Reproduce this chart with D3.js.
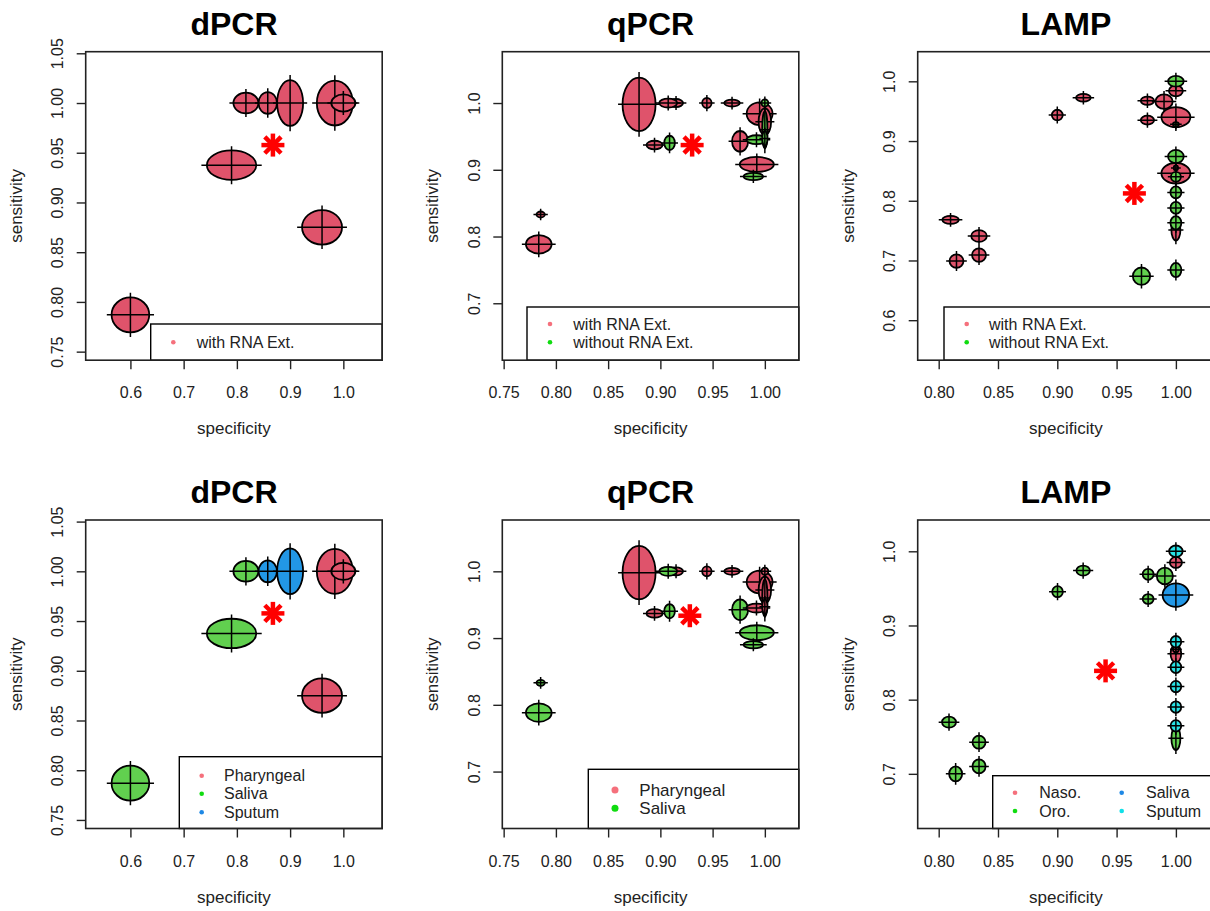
<!DOCTYPE html>
<html>
<head>
<meta charset="utf-8">
<script src="https://cdn.jsdelivr.net/npm/d3@7"></script>
<style>
body { margin: 0; background: #fff; }
text { font-family: "Liberation Sans", Arial, sans-serif; }
</style>
</head>
<body>
<svg id="fig" width="1210" height="911"></svg>
<script>
// ---- data ----
// dPCR studies: specificity, sensitivity, half widths of the ellipse
var dpcrSpec = [0.600, 0.790, 0.817, 0.858, 0.900, 0.984, 1.000, 0.960];
var dpcrSens = [0.787, 0.9375, 1.000, 1.000, 1.000, 1.000, 1.000, 0.875];
var dpcrRx   = [0.0354, 0.0464, 0.0235, 0.0173, 0.0244, 0.0338, 0.0226, 0.0376];
var dpcrRy   = [0.0176, 0.0148, 0.0104, 0.0110, 0.0230, 0.0226, 0.0086, 0.0173];
var dpcrRnaGroup    = ["R", "R", "R", "R", "R", "R", "R", "R"];
var dpcrSampleGroup = ["G", "G", "G", "B", "B", "R", "R", "R"];
var dpcrSummary = [0.8677, 0.9577];

// qPCR studies
var qpcrSpec = [0.7836, 0.7854, 0.8796, 0.915, 0.9075, 0.9445, 0.9686, 0.8944, 0.9088, 0.995, 1.000, 1.000, 1.000, 0.9763, 0.992, 1.000, 0.9923, 0.989];
var qpcrSens = [0.7883, 0.833, 0.998, 1.000, 1.000, 1.000, 1.000, 0.937, 0.9403, 0.984, 0.972, 1.000, 0.960, 0.9426, 0.945, 0.947, 0.908, 0.890];
var qpcrRx   = [0.0123, 0.0040, 0.0158, 0.0067, 0.0086, 0.0045, 0.0075, 0.0077, 0.0051, 0.0124, 0.0060, 0.0033, 0.0025, 0.0077, 0.0096, 0.0025, 0.0163, 0.0093];
var qpcrRy   = [0.0138, 0.0045, 0.0400, 0.0060, 0.0067, 0.0075, 0.0052, 0.0065, 0.0107, 0.0170, 0.0200, 0.0055, 0.0280, 0.0155, 0.0067, 0.0110, 0.0112, 0.0055];
var qpcrRnaGroup    = ["R", "R", "R", "R", "R", "R", "R", "R", "G", "R", "R", "G", "G", "R", "G", "G", "R", "G"];
var qpcrSampleGroup = ["G", "G", "R", "R", "G", "R", "R", "R", "G", "R", "R", "R", "R", "G", "R", "R", "G", "G"];
var qpcrSummaryTop = [0.9304, 0.937];
var qpcrSummaryBottom = [0.9282, 0.9335];

// LAMP studies, RNA extraction view
var lampSpecA = [0.810, 0.815, 0.834, 0.834, 0.900, 0.922, 0.976, 0.976, 0.990, 1.000, 1.000, 1.000, 1.000, 1.000, 1.000, 1.000, 1.000, 1.000, 1.000, 1.000, 1.000, 1.000, 0.971];
var lampSensA = [0.768, 0.699, 0.741, 0.709, 0.9435, 0.9725, 0.9675, 0.935, 0.966, 0.940, 0.928, 0.984, 1.000, 0.846, 0.874, 0.855, 0.840, 0.814, 0.788, 0.751, 0.763, 0.684, 0.6737];
var lampRxA   = [0.0070, 0.0059, 0.0066, 0.0059, 0.0046, 0.0062, 0.0056, 0.0056, 0.0073, 0.0122, 0.0025, 0.0059, 0.0066, 0.0122, 0.0066, 0.0018, 0.0042, 0.0046, 0.0046, 0.0038, 0.0046, 0.0046, 0.0073];
var lampRyA   = [0.0067, 0.0112, 0.0098, 0.0112, 0.0089, 0.0064, 0.0070, 0.0075, 0.0120, 0.0168, 0.0035, 0.0092, 0.0090, 0.0173, 0.0112, 0.0040, 0.0084, 0.0100, 0.0100, 0.0176, 0.0112, 0.0120, 0.0145];
var lampGroupA = ["R", "R", "R", "R", "R", "R", "R", "R", "R", "R", "G", "R", "G", "R", "G", "R", "G", "G", "G", "R", "G", "G", "G"];
var lampSummaryA = [0.965, 0.8123];

// LAMP studies, sample type view
var lampSpecB = [0.8087, 0.8143, 0.834, 0.834, 0.9002, 0.9218, 0.9766, 0.9766, 0.9907, 1.000, 1.000, 1.000, 1.000, 1.000, 1.000, 1.000, 1.000, 1.000, 1.000, 1.000];
var lampSensB = [0.7696, 0.700, 0.7427, 0.710, 0.9456, 0.974, 0.969, 0.9357, 0.9667, 0.941, 0.985, 1.000, 0.862, 0.868, 0.878, 0.8437, 0.8176, 0.790, 0.748, 0.7647];
var lampRxB   = [0.0059, 0.0055, 0.0055, 0.0055, 0.0045, 0.0057, 0.0046, 0.0046, 0.0068, 0.0112, 0.0051, 0.0057, 0.0045, 0.0025, 0.0045, 0.0045, 0.0045, 0.0045, 0.0038, 0.0045];
var lampRyB   = [0.0074, 0.0101, 0.0088, 0.0094, 0.0074, 0.0067, 0.0074, 0.0067, 0.0112, 0.0158, 0.0074, 0.0078, 0.0120, 0.0040, 0.0078, 0.0078, 0.0078, 0.0078, 0.0160, 0.0078];
var lampGroupB = ["G", "G", "G", "G", "G", "G", "G", "G", "G", "B", "R", "C", "R", "R", "C", "C", "C", "C", "G", "C"];
var lampSummaryB = [0.9407, 0.8388];

// axis limits and ticks
var dpcrXLim = [0.516, 1.073], dpcrYLim = [0.7414, 1.0516];
var qpcrXLim = [0.7487, 1.0325], qpcrYLim = [0.6147, 1.0769];
var lampXLim = [0.7823, 1.0323], lampYLimA = [0.533, 1.0496], lampYLimB = [0.6263, 1.0422];
var dpcrXTicks = [0.6, 0.7, 0.8, 0.9, 1.0];
var dpcrYTicks = [0.75, 0.80, 0.85, 0.90, 0.95, 1.00, 1.05];
var qpcrXTicks = [0.75, 0.80, 0.85, 0.90, 0.95, 1.00];
var qpcrYTicks = [0.7, 0.8, 0.9, 1.0];
var lampXTicks = [0.80, 0.85, 0.90, 0.95, 1.00];
var lampYTicksA = [0.6, 0.7, 0.8, 0.9, 1.0];
var lampYTicksB = [0.7, 0.8, 0.9, 1.0];

// legends
var rnaLabels = ["with RNA Ext.", "without RNA Ext."];
var dpcrSampleLabels = ["Pharyngeal", "Saliva", "Sputum"];
var qpcrSampleLabels = ["Pharyngeal", "Saliva"];
var lampSampleLabels = ["Naso.", "Oro.", "Saliva", "Sputum"];

// ---- styling ----
var fillCol = {R: "#DF536B", G: "#61D04F", B: "#2297E6", C: "#28E2E5"};
var keyCol = {R: "#F5707C", G: "#10DC10", B: "#1E88E5", C: "#10E0E8"};
var font = "'Liberation Sans', Arial, sans-serif";

var colLeft = [85.7, 502.3, 917.7], rowTop = [51.7, 520];
var boxW = 296.5, boxH = 308.5;

var svg = d3.select("#fig");

var panels = [
  {col: 0, row: 0, title: "dPCR", xLim: dpcrXLim, yLim: dpcrYLim, xTicks: dpcrXTicks, xFmt: ".1f", yTicks: dpcrYTicks, yFmt: ".2f",
   spec: dpcrSpec, sens: dpcrSens, rx: dpcrRx, ry: dpcrRy, grp: dpcrRnaGroup, sum: dpcrSummary,
   legend: {left: 65, top: 272.3, labels: rnaLabels.slice(0, 1), keys: ["R"], rows: [18.3], pt: 22.6, tx: 46, r: 2.3}},
  {col: 1, row: 0, title: "qPCR", xLim: qpcrXLim, yLim: qpcrYLim, xTicks: qpcrXTicks, xFmt: ".2f", yTicks: qpcrYTicks, yFmt: ".1f",
   spec: qpcrSpec, sens: qpcrSens, rx: qpcrRx, ry: qpcrRy, grp: qpcrRnaGroup, sum: qpcrSummaryTop,
   legend: {left: 24.7, top: 255.3, labels: rnaLabels, keys: ["R", "G"], rows: [17, 35.3], pt: 23, tx: 46.3, r: 2.3}},
  {col: 2, row: 0, title: "LAMP", xLim: lampXLim, yLim: lampYLimA, xTicks: lampXTicks, xFmt: ".2f", yTicks: lampYTicksA, yFmt: ".1f",
   spec: lampSpecA, sens: lampSensA, rx: lampRxA, ry: lampRyA, grp: lampGroupA, sum: lampSummaryA,
   legend: {left: 26.3, top: 255.3, labels: rnaLabels, keys: ["R", "G"], rows: [17, 35.3], pt: 22.7, tx: 45, r: 2.3}},
  {col: 0, row: 1, title: "dPCR", xLim: dpcrXLim, yLim: dpcrYLim, xTicks: dpcrXTicks, xFmt: ".1f", yTicks: dpcrYTicks, yFmt: ".2f",
   spec: dpcrSpec, sens: dpcrSens, rx: dpcrRx, ry: dpcrRy, grp: dpcrSampleGroup, sum: dpcrSummary,
   legend: {left: 93.6, top: 236.7, labels: dpcrSampleLabels, keys: ["R", "G", "B"], rows: [19, 37, 55.5], pt: 22.4, tx: 44.7, r: 2.3}},
  {col: 1, row: 1, title: "qPCR", xLim: qpcrXLim, yLim: qpcrYLim, xTicks: qpcrXTicks, xFmt: ".2f", yTicks: qpcrYTicks, yFmt: ".1f",
   spec: qpcrSpec, sens: qpcrSens, rx: qpcrRx, ry: qpcrRy, grp: qpcrSampleGroup, sum: qpcrSummaryBottom,
   legend: {left: 86, top: 249.3, labels: qpcrSampleLabels, keys: ["R", "G"], rows: [20.7, 39], pt: 26.7, tx: 51, r: 3.5, size: 17}},
  {col: 2, row: 1, title: "LAMP", xLim: lampXLim, yLim: lampYLimB, xTicks: lampXTicks, xFmt: ".2f", yTicks: lampYTicksB, yFmt: ".1f",
   spec: lampSpecB, sens: lampSensB, rx: lampRxB, ry: lampRyB, grp: lampGroupB, sum: lampSummaryB,
   legend: {left: 75, top: 255.7, labels: lampSampleLabels, keys: ["R", "G", "B", "C"], rows: [17, 35.3, 17, 35.3],
            cols: [0, 0, 106.7, 106.7], pt: 22.3, tx: 46.6, r: 2.3}}
];

panels.forEach(function(p, pi) {
  var g = svg.append("g")
      .attr("transform", "translate(" + colLeft[p.col] + "," + rowTop[p.row] + ")");

  var x = d3.scaleLinear().domain(p.xLim).range([0, boxW]);
  var y = d3.scaleLinear().domain(p.yLim).range([boxH, 0]);

  g.append("clipPath").attr("id", "clip" + pi)
    .append("rect").attr("width", boxW).attr("height", boxH);

  // studies: ellipse + cross
  var marks = g.append("g").attr("clip-path", "url(#clip" + pi + ")");
  var data = p.spec.map(function(s, i) {
    return {s: s, e: p.sens[i], rx: p.rx[i], ry: p.ry[i], grp: p.grp[i]};
  });
  data.forEach(function(d) {
    var cx = x(d.s), cy = y(d.e);
    var rxp = x(d.s + d.rx) - cx, ryp = cy - y(d.e + d.ry);
    var hx = rxp * 1.12 + 2.5, hy = ryp * 1.12 + 2.5;
    marks.append("ellipse")
      .attr("cx", cx).attr("cy", cy).attr("rx", rxp).attr("ry", ryp)
      .attr("fill", fillCol[d.grp]).attr("stroke", "#000").attr("stroke-width", 1.8);
    marks.append("line")
      .attr("x1", cx - hx).attr("x2", cx + hx).attr("y1", cy).attr("y2", cy)
      .attr("stroke", "#000").attr("stroke-width", 1.5);
    marks.append("line")
      .attr("x1", cx).attr("x2", cx).attr("y1", cy - hy).attr("y2", cy + hy)
      .attr("stroke", "#000").attr("stroke-width", 1.5);
  });

  // summary point
  var sx = x(p.sum[0]), sy = y(p.sum[1]);
  g.selectAll(".star").data([0, 45, 90, 135]).enter().append("line")
    .attr("x1", function(a) { return sx - 11.5 * Math.cos(a * Math.PI / 180); })
    .attr("x2", function(a) { return sx + 11.5 * Math.cos(a * Math.PI / 180); })
    .attr("y1", function(a) { return sy - 11.5 * Math.sin(a * Math.PI / 180); })
    .attr("y2", function(a) { return sy + 11.5 * Math.sin(a * Math.PI / 180); })
    .attr("stroke", "#FF0000").attr("stroke-width", 4.5);

  // legend (white box drawn over the points)
  var L = p.legend;
  var lg = g.append("g").attr("transform", "translate(" + L.left + "," + L.top + ")");
  lg.append("rect").attr("width", boxW - L.left).attr("height", boxH - L.top)
    .attr("fill", "#fff").attr("stroke", "#000").attr("stroke-width", 1.4);
  L.labels.forEach(function(lab, i) {
    var off = L.cols ? L.cols[i] : 0;
    lg.append("circle").attr("cx", off + L.pt).attr("cy", L.rows[i]).attr("r", L.r)
      .attr("fill", keyCol[L.keys[i]]);
    lg.append("text").attr("x", off + L.tx).attr("y", L.rows[i] + 5.8)
      .attr("font-size", L.size || 16).attr("fill", "#222").text(lab);
  });

  // box
  g.append("rect").attr("width", boxW).attr("height", boxH)
    .attr("fill", "none").attr("stroke", "#222").attr("stroke-width", 1.6);

  // axes
  var xa = g.append("g").attr("transform", "translate(0," + boxH + ")")
    .call(d3.axisBottom(x).tickValues(p.xTicks).tickFormat(d3.format(p.xFmt)).tickSize(9).tickSizeOuter(0));
  xa.select(".domain").remove();
  xa.selectAll("line").attr("stroke", "#222").attr("stroke-width", 1.4);
  xa.selectAll("text").attr("y", 38).attr("dy", null)
    .attr("font-family", font).attr("font-size", 16).attr("fill", "#222");

  var ya = g.append("g")
    .call(d3.axisLeft(y).tickValues(p.yTicks).tickFormat(d3.format(p.yFmt)).tickSize(9).tickSizeOuter(0));
  ya.select(".domain").remove();
  ya.selectAll("line").attr("stroke", "#222").attr("stroke-width", 1.4);
  ya.selectAll("text").attr("x", 0).attr("y", 0).attr("dy", null)
    .attr("transform", "translate(-22.5,0) rotate(-90)")
    .style("text-anchor", "middle")
    .attr("font-family", font).attr("font-size", 16).attr("fill", "#222");

  // titles and labels
  g.append("text").attr("x", boxW / 2).attr("y", -16.7)
    .attr("text-anchor", "middle").attr("font-size", 32).attr("font-weight", "bold")
    .attr("fill", "#000").text(p.title);
  g.append("text").attr("x", boxW / 2).attr("y", boxH + 74)
    .attr("text-anchor", "middle").attr("font-size", 17).attr("fill", "#222").text("specificity");
  g.append("text").attr("transform", "translate(-64," + (boxH / 2) + ") rotate(-90)")
    .attr("text-anchor", "middle").attr("font-size", 17).attr("fill", "#222").text("sensitivity");
});
</script>
</body>
</html>
